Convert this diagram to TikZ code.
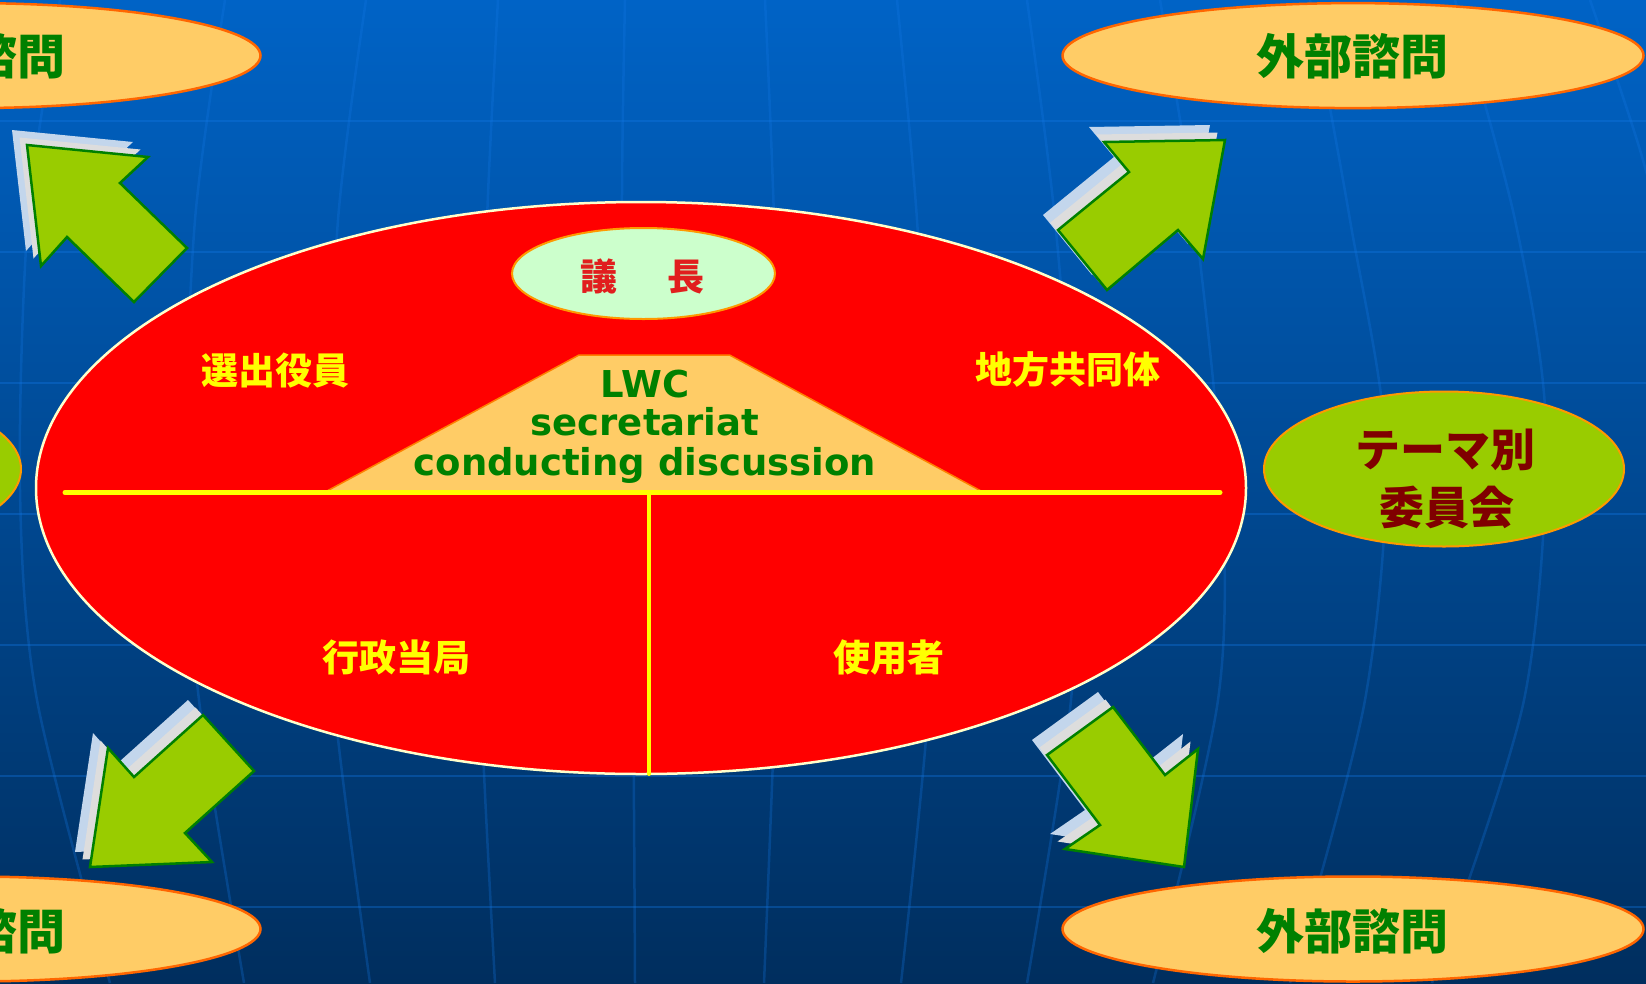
\documentclass[tikz,border=0pt]{standalone}
\usepackage{fontspec}
\newfontfamily\jpfont{Noto Sans CJK JP}
\newfontfamily\vdfont{DejaVu Sans}
\usetikzlibrary{shapes.geometric}
\definecolor{bgtop}{RGB}{0,99,198}
\definecolor{bgbot}{RGB}{0,46,94}
\definecolor{gridc}{RGB}{20,120,230}
\definecolor{peach}{HTML}{FFCC66}
\definecolor{orangeb}{HTML}{FF6600}
\definecolor{ambr}{HTML}{FF9900}
\definecolor{limeg}{HTML}{99CC00}
\definecolor{darkg}{HTML}{008000}
\definecolor{mint}{HTML}{CCFFCC}
\definecolor{cream}{HTML}{FFFFCC}
\definecolor{maroonc}{HTML}{800000}
\definecolor{chairred}{RGB}{225,30,30}
\definecolor{shadeblue}{RGB}{195,214,236}
\definecolor{shadegray}{RGB}{221,221,221}
\definecolor{trapb}{RGB}{255,128,0}
\definecolor{yel}{HTML}{FFFF00}
\tikzset{
  arrowbody/.style={fill=limeg, draw=darkg, line width=2.5pt, line join=miter},
  hgrid/.style={draw=gridc, opacity=0.35, line width=2.5pt},
  vgrid/.style={draw=gridc, opacity=0.28, line width=2.5pt},
  outerell/.style={ellipse, draw=orangeb, fill=peach, line width=2.5pt, minimum width=581pt, minimum height=105pt, inner sep=0pt},
  themeell/.style={ellipse, draw=ambr, fill=limeg, line width=2pt, minimum width=360pt, minimum height=155pt, inner sep=0pt},
  jptext/.style={inner sep=0pt, font={\jpfont\bfseries\fontsize{37}{40}\selectfont}},
  outertext/.style={inner sep=0pt, text=darkg, font={\jpfont\bfseries\fontsize{48}{52}\selectfont}},
  themetext/.style={inner sep=0pt, text=maroonc, font={\jpfont\bfseries\fontsize{45}{50}\selectfont}},
  lwctext/.style={inner sep=0pt, anchor=base, text=darkg, font={\vdfont\bfseries\fontsize{37}{40}\selectfont}},
  divider/.style={draw=yel, line cap=round}
}
\newcommand{\myblockarrow}[1]{%
  \fill[shadeblue, shift={(-15,-15)}] #1 -- cycle;
  \fill[shadegray, shift={(-7.5,-7.5)}] #1 -- cycle;
  \filldraw[arrowbody] #1 -- cycle;}
\begin{document}
\begin{tikzpicture}[x=1pt,y=-1pt]
\useasboundingbox (0,0) rectangle (1646,983);
\clip (0,0) rectangle (1646,983);
% background
\fill[top color=bgtop, bottom color=bgbot] (0,0) rectangle (1646,983);
\foreach \yy in {121,252,383,514,645,776,907}{
  \draw[hgrid] (0,\yy) -- (1646,\yy);
}
\draw[vgrid] plot[smooth] coordinates {(60,0) (28,220) (20,490) (37,700) (110,983)};
\draw[vgrid] plot[smooth] coordinates {(225,0) (195,220) (185,490) (199,700) (244,983)};
\draw[vgrid] plot[smooth] coordinates {(366,0) (338,220) (328,490) (334,700) (370,983)};
\draw[vgrid] plot[smooth] coordinates {(498,0) (487,220) (481,490) (481,700) (495,983)};
\draw[vgrid] plot[smooth] coordinates {(625,0) (622,220) (628,490) (633,700) (635,983)};
\draw[vgrid] plot[smooth] coordinates {(765,0) (774,220) (778,490) (775,700) (764,983)};
\draw[vgrid] plot[smooth] coordinates {(897,0) (917,220) (930,490) (929,700) (901,983)};
\draw[vgrid] plot[smooth] coordinates {(1027,0) (1055,220) (1075,490) (1071,700) (1027,983)};
\draw[vgrid] plot[smooth] coordinates {(1160,0) (1195,220) (1222,490) (1218,700) (1153,983)};
\draw[vgrid] plot[smooth] coordinates {(1310,0) (1350,220) (1386,450) (1365,700) (1290,983)};
\draw[vgrid] plot[smooth] coordinates {(1455,0) (1515,220) (1546,430) (1524,700) (1432,983)};
\draw[vgrid] plot[smooth] coordinates {(1590,0) (1640,150) (1680,300)};

% outer ellipses
\node[outerell] (advTL) at (-30,55.6) {};
\node[outertext] (advTLt) at (-30,56) {外部諮問};
\node[outerell] (advTR) at (1353,55.6) {};
\node[outertext] (advTRt) at (1352,56) {外部諮問};
\node[outerell] (advBL) at (-30,929) {};
\node[outertext] (advBLt) at (-30,931) {外部諮問};
\node[outerell] (advBR) at (1353,929) {};
\node[outertext] (advBRt) at (1352,931) {外部諮問};
\node[themeell] (themeL) at (-159,469) {};
\node[themeell] (themeR) at (1444,469) {};
\node[themetext] (themeR1) at (1445,450) {テーマ別};
\node[themetext] (themeR2) at (1447,507) {委員会};

% main table
\node[ellipse, fill=red, draw=cream, line width=2.5pt, minimum width=1210pt, minimum height=572pt, inner sep=0pt] (table) at (641,488) {};
\node[ellipse, fill=mint, draw=ambr, line width=2pt, minimum width=263pt, minimum height=91pt, inner sep=0pt] (chair) at (643.5,273.5) {};
\node[jptext, text=chairred] (chairt) at (642.3,276.5) {議\hspace{1.35em}長};
\filldraw[fill=peach, draw=trapb, line width=1.5pt] (579,355) -- (729.5,355) -- (981,491) -- (327,491) -- cycle;
\coordinate (hl) at (65,492.5);
\coordinate (hr) at (1220,492.5);
\coordinate (vt) at (649,492.5);
\coordinate (vb) at (649,774);
\draw[divider, line width=5pt] (hl) -- (hr);
\draw[divider, line width=4pt] (vt) -- (vb);
\node[lwctext] (lwc1) at (645,397) {LWC};
\node[lwctext] (lwc2) at (645,435) {secretariat};
\node[lwctext] (lwc3) at (645,475) {conducting discussion};
\node[jptext, text=yel] (elected) at (275,370.5) {選出役員};
\node[jptext, text=yel] (local) at (1068,369.5) {地方共同体};
\node[jptext, text=yel] (admin) at (396,657) {行政当局};
\node[jptext, text=yel] (users) at (889,657) {使用者};

% block arrows
\myblockarrow{(27,145) -- (148,157) -- (120,183) -- (187,248) -- (134,302) -- (67,237) -- (41,266)}
\myblockarrow{(1225,140) -- (1104,142) -- (1129,172) -- (1058,230) -- (1107,290) -- (1178,230) -- (1203,259)}
\myblockarrow{(90,867) -- (108,748) -- (134,777) -- (203,715) -- (254,771) -- (185,833) -- (212,862)}
\myblockarrow{(1184,867) -- (1198,749) -- (1165,775) -- (1113,707) -- (1047,755) -- (1100,825) -- (1065,849)}
\end{tikzpicture}
\end{document}
